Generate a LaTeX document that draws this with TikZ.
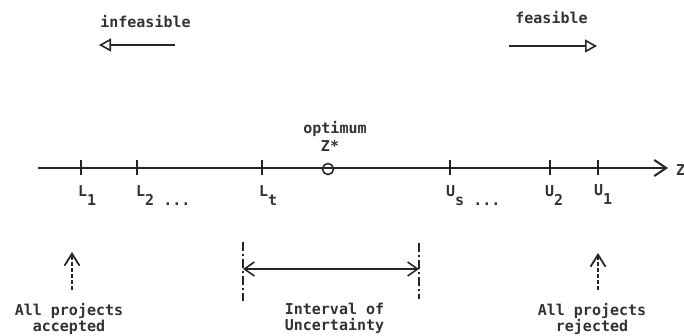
\documentclass[tikz,border=0pt]{standalone}
\usepackage{fontspec}
\setmonofont{DejaVu Sans Mono}
\usetikzlibrary{arrows.meta,positioning}

\begin{document}
\begin{tikzpicture}[
    x=1pt, y=-1pt,
    txt/.style={font=\ttfamily\bfseries\fontsize{15}{16}\selectfont, inner sep=0pt, text=black!80},
    captxt/.style={txt, align=center, anchor=north},
    ticklbl/.style={txt, anchor=base west},
    axisline/.style={line width=2pt, black!85, -{Straight Barb[length=12pt,width=16pt,line width=2pt]}},
    tickmark/.style={line width=2pt, black!85},
    optcirc/.style={circle, draw, line width=1.6pt, black!85, minimum size=11pt, inner sep=0pt},
    dirarrow/.style={line width=1.6pt, black!85, -{Triangle[open,length=12pt,width=13pt,line width=1.6pt]}},
    uparrow/.style={line width=1.6pt, black!85, dash pattern=on 4pt off 2pt, -{Straight Barb[length=12pt,width=15pt,line width=1.8pt]}},
    bound/.style={line width=1.2pt, black!85, dash pattern=on 9pt off 3pt on 2pt off 3pt},
    interval/.style={line width=1.5pt, black!85, {Straight Barb[length=10pt,width=14pt,line width=1.6pt]}-{Straight Barb[length=10pt,width=14pt,line width=1.6pt]}}
]
    \useasboundingbox (0,0) rectangle (684,335);

    % feasibility directions
    \node[txt, anchor=base] (infeas) at (145.5,27) {infeasible};
    \coordinate (infeastail) at (175,45);
    \coordinate (infeastip) at (99,45);
    \draw[dirarrow] (infeastail) -- (infeastip);

    \node[txt, anchor=base] (feas) at (551.5,23) {feasible};
    \coordinate (feastail) at (509,46);
    \coordinate (feastip) at (597,46);
    \draw[dirarrow] (feastail) -- (feastip);

    % the Z axis
    \coordinate (zstart) at (38,168);
    \coordinate (zend) at (668,168);
    \draw[axisline] (zstart) -- (zend);
    \node[txt, anchor=base west] (zlbl) at (676,175) {Z};

    \coordinate (l1) at (81,168);
    \coordinate (l2) at (137,168);
    \coordinate (lt) at (262,168);
    \coordinate (us) at (450,168);
    \coordinate (u2) at (550,168);
    \coordinate (u1) at (598,168);
    \foreach \p in {l1,l2,lt,us,u2,u1}
        \draw[tickmark] ([yshift=8pt]\p) -- ([yshift=-7pt]\p);

    \node[ticklbl] (l1lbl) at (78,196) {L\raisebox{-9pt}{1}};
    \node[ticklbl] (l2lbl) at (136,196) {L\raisebox{-9pt}{2 ...}};
    \node[ticklbl] (ltlbl) at (259,196) {L\raisebox{-9pt}{t}};
    \node[ticklbl] (uslbl) at (446,196) {U\raisebox{-9pt}{s ...}};
    \node[ticklbl] (u2lbl) at (545,196) {U\raisebox{-9pt}{2}};
    \node[ticklbl] (u1lbl) at (594,195) {U\raisebox{-9pt}{1}};

    % optimum
    \node[optcirc] (opt) at (328,169) {};
    \node[txt, anchor=base] (zstar) at (330,151) {Z*};
    \node[txt, anchor=base] (optlbl) at (335,133) {optimum};

    % bottom captions
    \node[captxt] (accept) at (69,303) {All projects\\accepted};
    \coordinate (acctip) at (72,252);
    \draw[uparrow] ([yshift=13pt]acctip |- accept.north) -- (acctip);

    \node[captxt] (reject) at (592,303) {All projects\\rejected};
    \coordinate (rejtip) at (598,253);
    \draw[uparrow] ([yshift=13pt]rejtip |- reject.north) -- (rejtip);

    \coordinate (ivleft) at (243,269);
    \coordinate (ivright) at (419,269);
    \draw[bound] ([yshift=27pt]ivleft) -- ([yshift=-32pt]ivleft);
    \draw[bound] ([yshift=26pt]ivright) -- ([yshift=-30pt]ivright);
    \draw[interval] (ivleft) -- (ivright);
    \node[captxt] (uncert) at (334.5,303) {Interval of\\Uncertainty};
\end{tikzpicture}
\end{document}
